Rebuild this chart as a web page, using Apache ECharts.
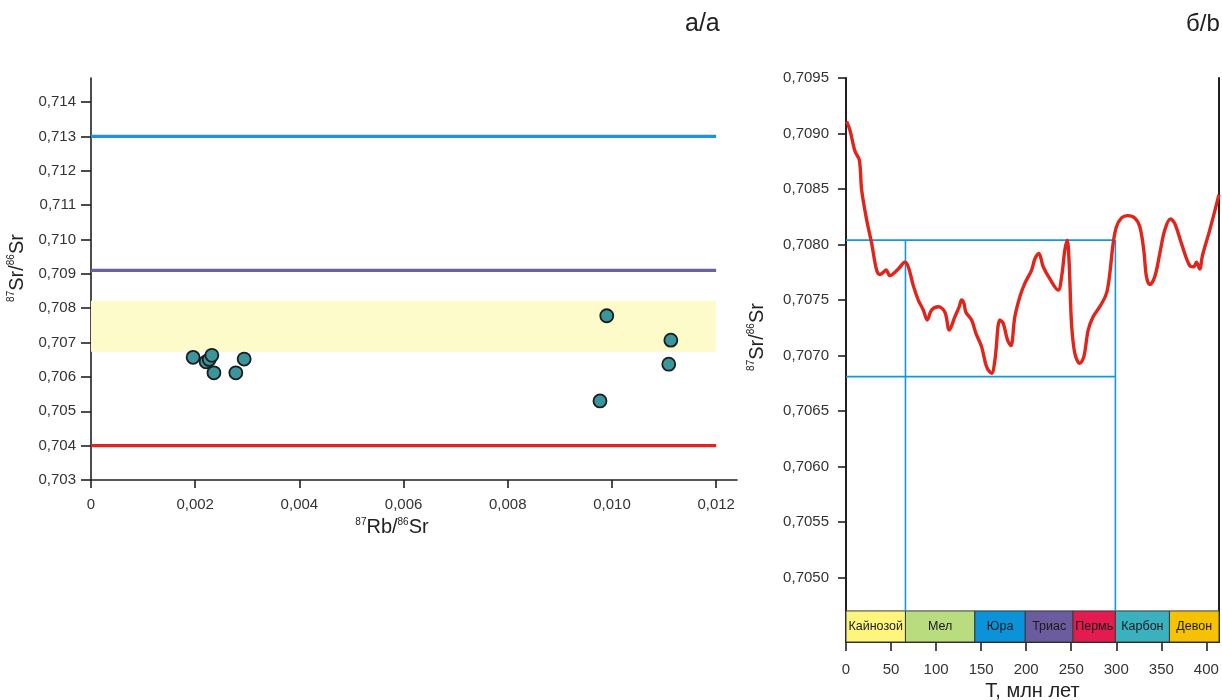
<!DOCTYPE html>
<html><head><meta charset="utf-8">
<script src="https://cdn.jsdelivr.net/npm/echarts@6/dist/echarts.min.js"></script>
<style>html,body{margin:0;padding:0;background:#fff}#c{width:1222px;height:700px}</style>
</head><body><div id="c"></div>
<script>
// ---------- data: panel a ----------
const rbSr = [0.00196,0.00221,0.00227,0.00232,0.00236,0.00278,0.00294,0.00990,0.01113,0.01109,0.00977];
const srSrA = [0.70657,0.70644,0.70651,0.70663,0.70612,0.70612,0.70652,0.70778,0.70707,0.70637,0.70530];
const refLineNames = ['upper','middle','lower'];
const refLineValues = [0.7130,0.7091,0.7040];
const refLineXRange = [0,0.012];
const bandRange = [0.70673,0.70822];
const yTicksA = [0.703,0.704,0.705,0.706,0.707,0.708,0.709,0.710,0.711,0.712,0.713,0.714];
const xTicksA = [0,0.002,0.004,0.006,0.008,0.010,0.012];
// ---------- data: panel b ----------
const ageT = [0.7,4.4,10,14.8,17.4,23,28.5,34,37.7,41.4,44.4,48.8,58,65.4,69.1,74.7,80.2,85.8,90.2,95,102.4,109.8,114.6,120.9,125.7,128.3,130.9,133.1,139.4,144.2,150.5,156,161.6,165.3,170.8,174.5,179.3,183,187.4,193,198.5,206,209.6,214,218.9,226.3,235.5,239.3,242.9,245.5,247.7,250.3,254,259.5,264,268.8,274.3,281.7,289.1,292.8,296.5,300.2,305.8,312.4,320.5,326.1,330.5,333.5,337.2,342.7,348.3,353.8,360.1,364.9,372.3,381.5,386,388.9,392.6,395.6,403.7,414];
const srSrB = [0.70911,0.70903,0.70884,0.70876,0.70849,0.70822,0.70801,0.70777,0.70773,0.70775,0.70777,0.70772,0.70778,0.70784,0.70780,0.70763,0.70750,0.70741,0.70732,0.70741,0.70744,0.70739,0.70723,0.70735,0.70744,0.70750,0.70747,0.70739,0.70732,0.70720,0.70708,0.70690,0.70684,0.70696,0.70732,0.70729,0.70714,0.70709,0.70735,0.70753,0.70765,0.70777,0.70787,0.70792,0.70780,0.70769,0.70759,0.70771,0.70795,0.70804,0.70783,0.70729,0.70702,0.70693,0.70699,0.70723,0.70735,0.70744,0.70756,0.70774,0.70801,0.70816,0.70824,0.70826,0.70824,0.70816,0.70795,0.70771,0.70764,0.70771,0.70792,0.70813,0.70823,0.70819,0.70801,0.70781,0.70780,0.70784,0.70778,0.70790,0.70813,0.70845];
const levelHi = 0.70804, levelLo = 0.70681;
const ageMarks = [66,299];
const periods = ['Кайнозой','Мел','Юра','Триас','Пермь','Карбон','Девон'];
const periodStart = [0,66,143,199,252,299,359];
const periodEnd = [66,143,199,252,299,359,414];
const yTicksB = [0.7050,0.7055,0.7060,0.7065,0.7070,0.7075,0.7080,0.7085,0.7090,0.7095];
const xTicksB = [0,50,100,150,200,250,300,350,400];
const barBottom = 0.70442, barTop = 0.7047;

// ---------- styles ----------
const refColors = ['#1e93dc','#6b62a6','#e0251c'];
const periodColors = ['#fdf57c','#b9dc7e','#0a93d9','#6a5c9e','#e31b4f','#3bb1bf','#f6c200'];
const AX = '#231f20';
const FONT = 'Liberation Sans, Arial, sans-serif';
const rich = {
  s:{fontSize:10,verticalAlign:'top',lineHeight:22,fontFamily:FONT,color:'#222',padding:[0,0,8,0]},
  m:{fontSize:20,lineHeight:22,fontFamily:FONT,color:'#222'}
};
const fmtA = v => v===0 ? '0' : v.toFixed(3).replace('.',',');

const chart = echarts.init(document.getElementById('c'));
chart.setOption({
  animation:false,
  backgroundColor:'#fff',
  textStyle:{fontFamily:FONT},
  title:[
    {text:'а/a',left:680,top:7,textStyle:{fontSize:25,fontWeight:'normal',color:'#222',fontFamily:FONT}},
    {text:'б/b',left:1181,top:7,textStyle:{fontSize:24,fontWeight:'normal',color:'#222',fontFamily:FONT}}
  ],
  grid:[
    {left:91,top:78,width:646,height:402,outerBoundsMode:'none',containLabel:false},
    {left:846,top:78,width:373,height:564,outerBoundsMode:'none',containLabel:false}
  ],
  xAxis:[
    {type:'value',gridIndex:0,min:0,max:0.0124,
     name:'{s|87}{m|Rb/}{s|86}{m|Sr}',nameLocation:'middle',nameGap:35,
     nameTextStyle:{rich:rich,padding:[0,44,0,0]},
     axisLine:{lineStyle:{color:AX,width:1.6}},
     axisTick:{customValues:xTicksA,length:8,lineStyle:{color:AX,width:1.6}},
     axisLabel:{customValues:xTicksA,formatter:fmtA,fontSize:15,color:'#333',margin:17},
     splitLine:{show:false}},
    {type:'value',gridIndex:1,min:0,max:414,
     name:'T, млн лет',nameLocation:'middle',nameGap:39,
     nameTextStyle:{fontSize:20,color:'#222',fontFamily:FONT},
     axisLine:{lineStyle:{color:AX,width:2}},
     axisTick:{customValues:xTicksB,length:9,lineStyle:{color:AX,width:1.6}},
     axisLabel:{customValues:xTicksB,fontSize:15,color:'#333',margin:20},
     splitLine:{show:false}}
  ],
  yAxis:[
    {type:'value',gridIndex:0,min:0.703,max:0.7147,
     name:'{s|87}{m|Sr/}{s|86}{m|Sr}',nameLocation:'middle',nameGap:52,
     nameTextStyle:{rich:rich,padding:[0,0,0,22]},
     axisLine:{lineStyle:{color:AX,width:1.6}},
     axisTick:{customValues:yTicksA,length:10,lineStyle:{color:AX,width:1.6}},
     axisLabel:{customValues:yTicksA,formatter:fmtA,fontSize:15,color:'#333',margin:15},
     splitLine:{show:false}},
    {type:'value',gridIndex:1,min:barBottom,max:0.7095,
     name:'{s|87}{m|Sr/}{s|86}{m|Sr}',nameLocation:'middle',nameGap:78,
     nameTextStyle:{rich:rich,padding:[0,0,0,46]},
     axisLine:{lineStyle:{color:AX,width:2}},
     axisTick:{customValues:yTicksB,length:8,lineStyle:{color:AX,width:1.6}},
     axisLabel:{customValues:yTicksB,formatter:v=>v.toFixed(4).replace('.',','),fontSize:15,color:'#333',margin:17},
     splitLine:{show:false}},
    {type:'value',gridIndex:1,position:'right',min:barBottom,max:0.7095,
     axisLine:{show:true,lineStyle:{color:AX,width:2}},
     axisTick:{show:false},axisLabel:{show:false},splitLine:{show:false}}
  ],
  series:[
    {type:'line',xAxisIndex:0,yAxisIndex:0,data:[],silent:true,
     markArea:{silent:true,itemStyle:{color:'#fdfbca'},
       data:[[{xAxis:refLineXRange[0],yAxis:bandRange[0]},{xAxis:refLineXRange[1],yAxis:bandRange[1]}]]}},
    ...refLineValues.map((v,i)=>({
      type:'line',name:refLineNames[i],xAxisIndex:0,yAxisIndex:0,showSymbol:false,silent:true,
      lineStyle:{color:refColors[i],width:3.2},
      data:[[refLineXRange[0],v],[refLineXRange[1],v]]
    })),
    {type:'scatter',xAxisIndex:0,yAxisIndex:0,symbolSize:13,
     itemStyle:{color:'#3a959c',borderColor:'#1d1d1d',borderWidth:1.8,opacity:1},
     data:rbSr.map((x,i)=>[x,srSrA[i]])},
    {type:'line',xAxisIndex:1,yAxisIndex:1,data:[],silent:true,
     markArea:{silent:true,
       label:{show:true,position:'inside',color:'#1a1a1a',fontSize:12.5,fontFamily:FONT},
       data:periods.map((p,i)=>[
         {name:p,xAxis:periodStart[i],yAxis:barBottom,itemStyle:{color:periodColors[i],borderColor:'#3a3a3a',borderWidth:1}},
         {xAxis:periodEnd[i],yAxis:barTop}])}},
    {type:'line',xAxisIndex:1,yAxisIndex:1,showSymbol:false,silent:true,lineStyle:{color:'#1596df',width:1.6},
     data:[[0,levelHi],[ageMarks[1],levelHi]]},
    {type:'line',xAxisIndex:1,yAxisIndex:1,showSymbol:false,silent:true,lineStyle:{color:'#1596df',width:1.6},
     data:[[0,levelLo],[ageMarks[1],levelLo]]},
    ...ageMarks.map(a=>({type:'line',xAxisIndex:1,yAxisIndex:1,showSymbol:false,silent:true,
      lineStyle:{color:'#1596df',width:1.6},data:[[a,levelHi],[a,barTop]]})),
    {type:'line',xAxisIndex:1,yAxisIndex:1,showSymbol:false,smooth:0.35,
     lineStyle:{color:'#e0261c',width:3.4},
     data:ageT.map((t,i)=>[t,srSrB[i]])}
  ]
});
</script></body></html>
